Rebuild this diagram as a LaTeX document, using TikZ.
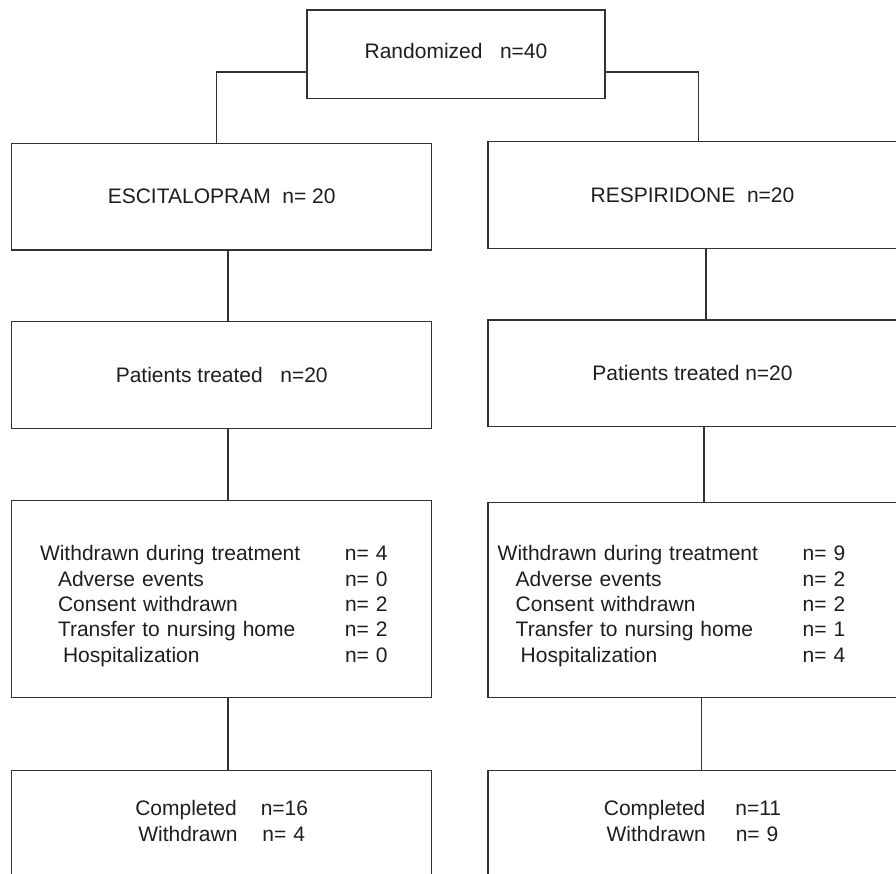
\documentclass[tikz,border=0pt]{standalone}
\usepackage{fontspec}
\setmainfont{Liberation Sans}
\usepackage{tikz}
\definecolor{lineGray}{RGB}{50, 50, 50}
\definecolor{inkBlack}{RGB}{30, 30, 30}
\newcommand{\wdline}[3]{\hspace*{#1}\makebox[\dimexpr305pt-#1\relax][l]{#2}#3}
\tikzset{
  flowbox/.style={draw=lineGray, line width=1.3pt, inner sep=0pt, text=inkBlack,
    font=\fontsize{21}{25.4}\selectfont},
  link/.style={draw=lineGray, line width=1.3pt}
}

\begin{document}
\begin{tikzpicture}[x=1pt,y=-1pt]
        \useasboundingbox (0,0) rectangle (896,873);
        \node[flowbox, minimum width=298pt, minimum height=88.7pt, text depth=7.4pt] (rand) at (456,54.4) {Randomized\ \ \ n=40};
        \node[flowbox, minimum width=420pt, minimum height=106.7pt] (escit) at (221.7,196.6) {ESCITALOPRAM\ \ n= 20};
        \node[flowbox, minimum width=409pt, minimum height=106.6pt] (resp) at (692.5,195) {RESPIRIDONE\ \ n=20};
        \node[flowbox, minimum width=420pt, minimum height=106.6pt] (treatL) at (221.7,375) {Patients treated\ \ \ n=20};
        \node[flowbox, minimum width=409pt, minimum height=106.7pt] (treatR) at (692.5,373.3) {Patients treated n=20};
        \node[flowbox, anchor=north, text width=363.4pt, inner xsep=28.3pt, align=left, text height=60pt, text depth=136.7pt] (wdL) at (221.7,500) {
          \wdline{0pt}{Withdrawn during treatment}{n= 4}\\
          \wdline{18pt}{Adverse events}{n= 0}\\
          \wdline{18pt}{Consent withdrawn}{n= 2}\\
          \wdline{18pt}{Transfer to nursing home}{n= 2}\\
          \wdline{23pt}{Hospitalization}{n= 0}};
        \node[flowbox, anchor=north, text width=389.6pt, inner xsep=9.7pt, align=left, text height=58.3pt, text depth=136.7pt] (wdR) at (692.5,501.7) {
          \wdline{0pt}{Withdrawn during treatment}{n= 9}\\
          \wdline{18pt}{Adverse events}{n= 2}\\
          \wdline{18pt}{Consent withdrawn}{n= 2}\\
          \wdline{18pt}{Transfer to nursing home}{n= 1}\\
          \wdline{23pt}{Hospitalization}{n= 4}};
        \node[flowbox, anchor=north, text width=420pt, align=center, text height=45pt, text depth=75pt] (doneL) at (221.7,770) {Completed\hspace{24pt}n=16\\Withdrawn\hspace{25pt}n= 4};
        \node[flowbox, anchor=north, text width=409pt, align=center, text height=45pt, text depth=75pt] (doneR) at (692.5,770) {Completed\hspace{30pt}n=11\\Withdrawn\hspace{30pt}n= 9};
        \draw[link] ([yshift=-17.6pt]rand.west) -| ([xshift=-5pt]escit.north);
        \draw[link] ([yshift=-17.6pt]rand.east) -| ([xshift=5.8pt]resp.north);
        \foreach \a/\b in {escit/treatL, treatL/wdL, wdL/doneL}
          \draw[link] ([xshift=6.3pt]\a.south) -- ([xshift=6.3pt]\b.north);
        \foreach \a/\b/\dx in {resp/treatR/13.5, treatR/wdR/11.5, wdR/doneR/9.2}
          \draw[link] ([xshift=\dx pt]\a.south) -- ([xshift=\dx pt]\b.north);
      \end{tikzpicture}
\end{document}
